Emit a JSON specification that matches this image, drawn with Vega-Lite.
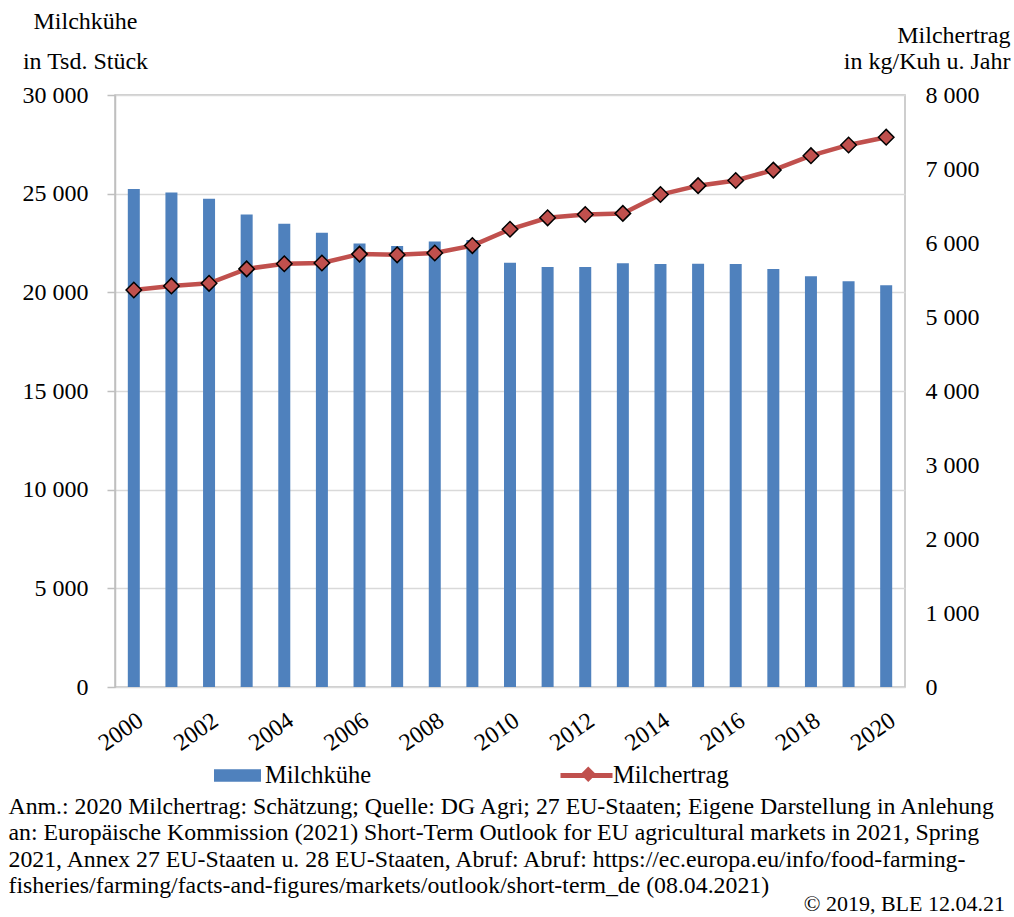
{
  "$schema": "https://vega.github.io/schema/vega-lite/v6.json",
  "width": 790,
  "height": 592,
  "autosize": {"type": "none"},
  "padding": {"left": 115, "top": 95, "right": 109, "bottom": 230},
  "background": "white",
  "config": {
    "font": "Liberation Serif",
    "view": {"stroke": "#bfbfbf", "strokeWidth": 1.5},
    "axis": {
      "labelFont": "Liberation Serif",
      "titleFont": "Liberation Serif",
      "labelColor": "black",
      "titleColor": "black",
      "titleFontWeight": "normal",
      "labelFontSize": 24,
      "titleFontSize": 24
    },
    "legend": {
      "labelFont": "Liberation Serif",
      "labelFontSize": 24.5,
      "labelColor": "black",
      "padding": 0,
      "orient": "none"
    }
  },
  "title": {
    "text": "© 2019, BLE 12.04.21",
    "orient": "bottom",
    "anchor": "end",
    "frame": "group",
    "dx": 100,
    "dy": -3,
    "offset": 0,
    "font": "Liberation Serif",
    "fontSize": 22,
    "fontWeight": "normal",
    "color": "black"
  },
  "data": {
    "values": [
      {"year": 2000, "kuehe": 25240, "ertrag": 5365},
      {"year": 2001, "kuehe": 25060, "ertrag": 5420},
      {"year": 2002, "kuehe": 24745, "ertrag": 5455},
      {"year": 2003, "kuehe": 23950, "ertrag": 5650},
      {"year": 2004, "kuehe": 23480, "ertrag": 5720},
      {"year": 2005, "kuehe": 23020, "ertrag": 5730},
      {"year": 2006, "kuehe": 22480, "ertrag": 5850},
      {"year": 2007, "kuehe": 22350, "ertrag": 5840},
      {"year": 2008, "kuehe": 22570, "ertrag": 5865},
      {"year": 2009, "kuehe": 22650, "ertrag": 5965},
      {"year": 2010, "kuehe": 21500, "ertrag": 6185},
      {"year": 2011, "kuehe": 21280, "ertrag": 6340},
      {"year": 2012, "kuehe": 21280, "ertrag": 6385},
      {"year": 2013, "kuehe": 21470, "ertrag": 6400},
      {"year": 2014, "kuehe": 21435, "ertrag": 6655},
      {"year": 2015, "kuehe": 21450, "ertrag": 6775},
      {"year": 2016, "kuehe": 21435, "ertrag": 6845},
      {"year": 2017, "kuehe": 21180, "ertrag": 6985},
      {"year": 2018, "kuehe": 20810, "ertrag": 7180},
      {"year": 2019, "kuehe": 20560, "ertrag": 7325},
      {"year": 2020, "kuehe": 20355, "ertrag": 7430}
    ]
  },
  "encoding": {
    "x": {
      "field": "year",
      "type": "ordinal",
      "scale": {"paddingInner": 0, "paddingOuter": 0},
      "axis": {
        "values": [2000, 2002, 2004, 2006, 2008, 2010, 2012, 2014, 2016, 2018, 2020],
        "labelAngle": -35,
        "ticks": false,
        "domain": false,
        "grid": false,
        "labelPadding": 21,
        "labelDx": -7,
        "title": [
          "Anm.: 2020 Milchertrag: Schätzung; Quelle: DG Agri; 27 EU-Staaten; Eigene Darstellung in Anlehung",
          "an: Europäische Kommission (2021) Short-Term Outlook for EU agricultural markets in 2021, Spring",
          "2021, Annex 27 EU-Staaten u. 28 EU-Staaten, Abruf: Abruf: https://ec.europa.eu/info/food-farming-",
          "fisheries/farming/facts-and-figures/markets/outlook/short-term_de (08.04.2021)"
        ],
        "titleX": -107,
        "titleY": 126,
        "titleAlign": "left",
        "titleAnchor": "start",
        "titleBaseline": "alphabetic",
        "titleAngle": 0,
        "titleFontSize": 23.8,
        "titleLineHeight": 26.5
      }
    }
  },
  "layer": [
    {
      "mark": {"type": "bar", "size": 12},
      "encoding": {
        "y": {
          "field": "kuehe",
          "type": "quantitative",
          "scale": {"domain": [0, 30000], "nice": false},
          "axis": {
            "orient": "left",
            "values": [0, 5000, 10000, 15000, 20000, 25000, 30000],
            "labelExpr": "replace(format(datum.value, ',d'), ',', ' ')",
            "grid": true,
            "gridColor": "#d9d9d9",
            "gridWidth": 1.5,
            "domain": true,
            "domainColor": "#bfbfbf",
            "domainWidth": 1.5,
            "ticks": true,
            "tickSize": 8,
            "tickColor": "#bfbfbf",
            "tickWidth": 1.5,
            "labelPadding": 19,
            "labelBaseline": "middle",
            "title": ["Milchkühe", "in Tsd. Stück"],
            "titleAngle": 0,
            "titleAlign": "center",
            "titleBaseline": "alphabetic",
            "titleX": -30,
            "titleY": -67,
            "titleLineHeight": 40
          }
        },
        "fill": {
          "datum": "Milchkühe",
          "type": "nominal",
          "scale": {"range": ["#4f81bd"]},
          "legend": {
            "title": null,
            "orient": "none",
            "legendX": 99,
            "legendY": 657,
            "symbolType": "M-1,-0.27H1V0.27H-1Z",
            "symbolSize": 2209,
            "symbolStrokeWidth": 0,
            "labelOffset": 4
          }
        }
      }
    },
    {
      "encoding": {
        "y": {
          "field": "ertrag",
          "type": "quantitative",
          "scale": {"domain": [0, 8000], "nice": false},
          "axis": {
            "orient": "right",
            "values": [0, 1000, 2000, 3000, 4000, 5000, 6000, 7000, 8000],
            "labelExpr": "replace(format(datum.value, ',d'), ',', ' ')",
            "grid": false,
            "domain": false,
            "ticks": false,
            "tickSize": 0,
            "labelPadding": 20,
            "labelBaseline": "middle",
            "title": ["Milchertrag", "in kg/Kuh u. Jahr"],
            "titleAngle": 0,
            "titleAlign": "right",
            "titleBaseline": "alphabetic",
            "titleX": 105,
            "titleY": -53,
            "titleLineHeight": 26
          }
        }
      },
      "layer": [
        {
          "mark": {"type": "line", "strokeWidth": 4.5},
          "encoding": {
            "stroke": {
              "datum": "Milchertrag",
              "type": "nominal",
              "scale": {"range": ["#c0504d"]},
              "legend": {
                "title": null,
                "orient": "none",
                "legendX": 443,
                "legendY": 652,
                "symbolType": "M-1,0H1",
                "symbolSize": 2704,
                "symbolStrokeWidth": 5,
                "labelOffset": -2
              }
            }
          }
        },
        {
          "mark": {"type": "point", "shape": "diamond", "size": 240, "filled": true, "fill": "#c0504d", "stroke": "black", "strokeWidth": 1.5, "opacity": 1},
          "encoding": {
            "shape": {
              "datum": "Milchertrag ",
              "type": "nominal",
              "scale": {"range": ["diamond"]},
              "legend": {
                "title": null,
                "orient": "none",
                "legendX": 461,
                "legendY": 667,
                "symbolSize": 240,
                "symbolFillColor": "#c0504d",
                "symbolStrokeColor": "black",
                "symbolStrokeWidth": 1.5,
                "labelExpr": "''"
              }
            }
          }
        }
      ]
    }
  ],
  "resolve": {"scale": {"y": "independent"}}
}
